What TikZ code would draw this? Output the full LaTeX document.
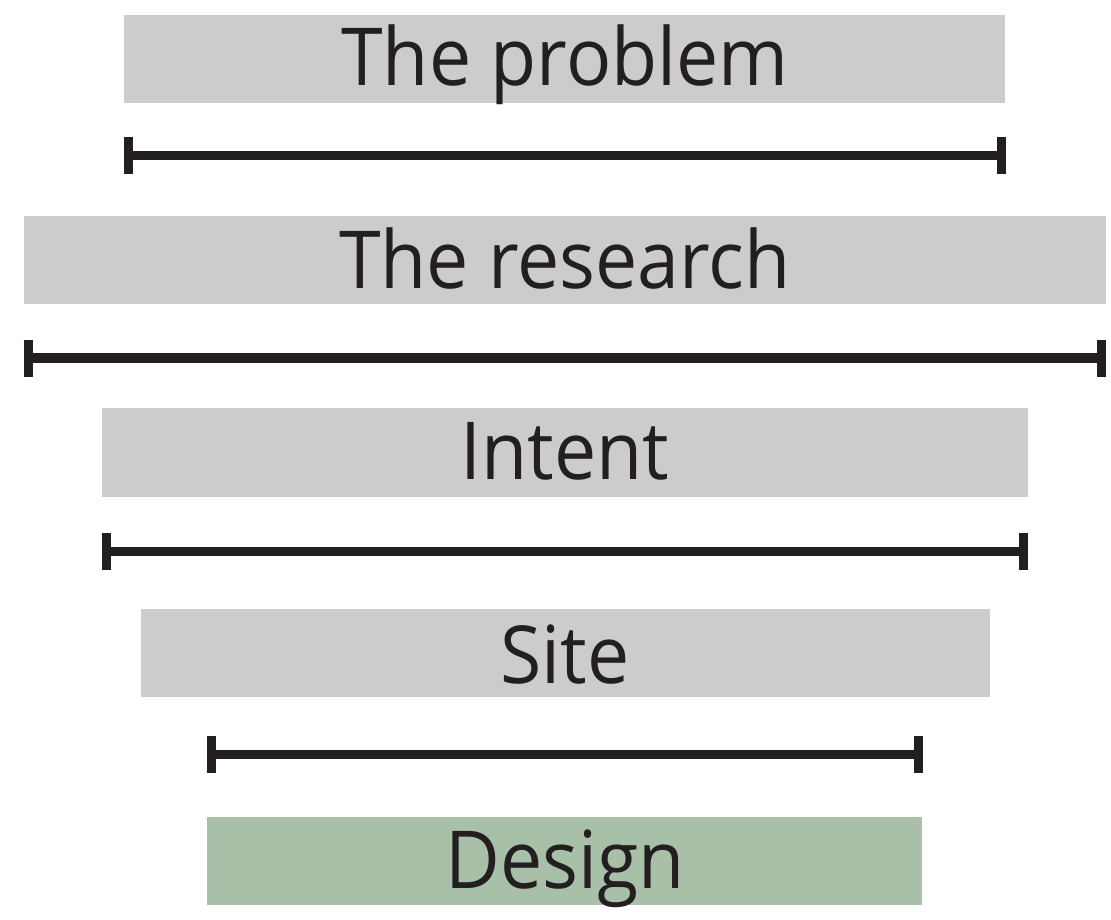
\documentclass[tikz,border=0pt]{standalone}
\usepackage{fontspec}
\setmainfont{Open Sans}[FakeStretch=0.94]
\definecolor{boxgray}{HTML}{CCCCCC}
\definecolor{boxgreen}{HTML}{A8BFA8}
\definecolor{bardark}{HTML}{231F20}
\begin{document}
\begin{tikzpicture}[x=1pt,y=-1pt,
  lbl/.style={anchor=base,text=bardark,font=\fontsize{80}{80}\selectfont,inner sep=0pt},
  barline/.style={draw=bardark,line width=9.5pt},
  tick/.style={fill=bardark}]
\useasboundingbox (0,0) rectangle (1111,919);
% boxes
\fill[boxgray] (124,15) rectangle (1005,102.5);
\node[lbl] (t1) at (565,85) {The problem};
\fill[boxgray] (24,216) rectangle (1106,304);
\node[lbl] (t2) at (565,288) {The research};
\fill[boxgray] (102,408) rectangle (1028,497);
\node[lbl] (t3) at (565,479) {Intent};
\fill[boxgray] (141,609) rectangle (990,697);
\node[lbl] (t4) at (565,683) {Site};
\fill[boxgreen] (207,817) rectangle (922,905);
\node[lbl] (t5) at (565,888) {Design};
% bars
\draw[barline] (124,155.5) -- (1006,155.5);
\fill[tick] (124,137) rectangle (133,174);
\fill[tick] (997,137) rectangle (1006,174);
\draw[barline] (24,358) -- (1106,358);
\fill[tick] (24,339.5) rectangle (33,376.5);
\fill[tick] (1097,339.5) rectangle (1106,376.5);
\draw[barline] (102,551.5) -- (1028,551.5);
\fill[tick] (102,533) rectangle (111,570);
\fill[tick] (1019,533) rectangle (1028,570);
\draw[barline] (207,754.5) -- (923,754.5);
\fill[tick] (207,736) rectangle (216,773);
\fill[tick] (914,736) rectangle (923,773);
\end{tikzpicture}
\end{document}
